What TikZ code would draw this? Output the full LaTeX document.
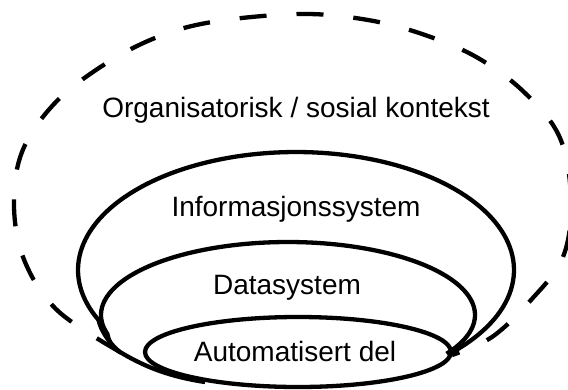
\documentclass[tikz,border=0pt]{standalone}
\usepackage{fontspec}
\setmainfont{Liberation Sans}
\begin{document}
\begin{tikzpicture}[x=1pt,y=-1pt,
    layer/.style={black,line width=4.3pt,line join=round},
    context/.style={black,line width=4.3pt,dash pattern=on 27pt off 30pt},
    label/.style={font=\fontsize{28}{34}\selectfont,anchor=base,inner sep=0pt}]
            \useasboundingbox (0,0) rectangle (568,389);
            \clip (0,0) rectangle (568,389);
            % Organisational context
            \draw[context] plot[smooth,tension=0.6] coordinates {(120,352) (58,311) (25,262) (14,207) (22,152) (54,104) (102,66) (155,38) (212,22) (300,14) (368,20) (425,35) (478,58) (525,93) (560,138) (571,200) (563,257) (531,300) (492,337) (452,355)};
            % Nested systems
            \coordinate (left) at (120,352);
            \coordinate (right) at (450,355);
            \draw[layer] plot[domain=-45.6:205,samples=120] ({296+218*cos(\x)},{270-118*sin(\x)})
                .. controls (104,342) and (125,356) .. (left)
                .. controls (140,364) and (165,376) .. (205,382);
            \draw[layer] plot[domain=-32:195,samples=120] ({288+187*cos(\x)},{315-73*sin(\x)})
                .. controls (109,343) and (114,349) .. (left);
            \draw[layer] (298,352) ellipse [x radius=153pt,y radius=35pt];
            % Labels
            \node[label] (org) at (296,117) {Organisatorisk / sosial kontekst};
            \node[label] (info) at (296,216) {Informasjonssystem};
            \node[label] (data) at (287,294) {Datasystem};
            \node[label] (auto) at (295,361) {Automatisert del};
\end{tikzpicture}
\end{document}
